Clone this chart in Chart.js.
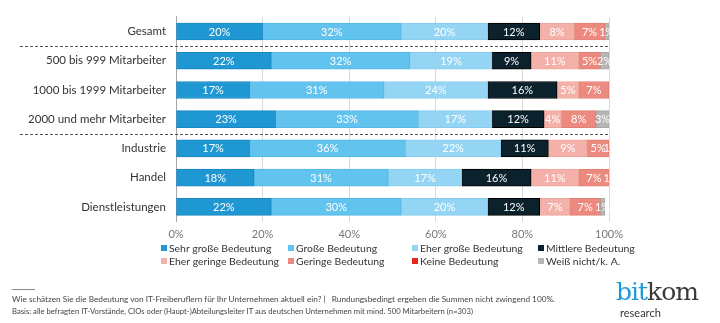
<!DOCTYPE html>
<html lang="de">
<head>
<meta charset="utf-8">
<title>Bedeutung von IT-Freiberuflern</title>
<script src="https://cdn.jsdelivr.net/npm/chart.js@4.4.1/dist/chart.umd.min.js"></script>
<style>
  html, body { margin: 0; padding: 0; background: #fff; }
  #wrap { position: relative; width: 720px; height: 323px; overflow: hidden; font-family: Lato, "Open Sans", sans-serif; }
  #chart { position: absolute; left: 0; top: 0; }
  .rule { position: absolute; left: 12px; top: 289px; width: 23px; height: 1px; background: #888; }
  .note { position: absolute; left: 12px; font-size: 8.2px; color: #444; white-space: nowrap; transform-origin: 0 0; }
  .logo { position: absolute; left: 616px; top: 279px; font-family: "DejaVu Serif", serif; font-size: 25px; letter-spacing: -1px; line-height: 1; }
  .logo .bit { color: #1b9ad7; }
  .logo .kom { color: #3a3a3a; }
  .research { position: absolute; left: 620px; top: 306px; font-size: 11px; color: #333; }
</style>
</head>
<body>
<div id="wrap">
  <canvas id="chart" width="720" height="323"></canvas>
  <div class="rule"></div>
  <div class="note" id="note1" data-w="543" style="top:294px">Wie schätzen Sie die Bedeutung von IT-Freiberuflern für Ihr Unternehmen aktuell ein? |&nbsp;&nbsp; Rundungsbedingt ergeben die Summen nicht zwingend 100%.</div>
  <div class="note" id="note2" data-w="461" style="top:306px">Basis: alle befragten IT-Vorstände, CIOs oder (Haupt-)Abteilungsleiter IT aus deutschen Unternehmen mit mind. 500 Mitarbeitern (n=303)</div>
  <div class="logo"><span class="bit">bit</span><span class="kom">kom</span></div>
  <div class="research">research</div>
</div>
<script>
const groups = ["Gesamt", "500 bis 999 Mitarbeiter", "1000 bis 1999 Mitarbeiter", "2000 und mehr Mitarbeiter", "Industrie", "Handel", "Dienstleistungen"];
const answers = ["Sehr große Bedeutung", "Große Bedeutung", "Eher große Bedeutung", "Mittlere Bedeutung", "Eher geringe Bedeutung", "Geringe Bedeutung", "Keine Bedeutung", "Weiß nicht/k. A."];

const sehrGross   = [20, 22, 17, 23, 17, 18, 22];
const gross       = [32, 32, 31, 33, 36, 31, 30];
const eherGross   = [20, 19, 24, 17, 22, 17, 20];
const mittlere    = [12, 9, 16, 12, 11, 16, 12];
const eherGering  = [8, 11, 5, 4, 9, 11, 7];
const gering      = [7, 5, 7, 8, 5, 7, 7];
const keine       = [0, 0, 0, 0, 0, 0, 0];
const weissNicht  = [1, 2, 0, 3, 1, 1, 1];

const xTicks = [0, 20, 40, 60, 80, 100];

const colors  = ["#1f97d3", "#62c3ee", "#95d5f4", "#0b222c", "#f4b1a9", "#ec8a7f", "#e8261c", "#b5b5b5"];
const borders = ["#1a87c0", "#55b8e6", "#86cbef", "#000000", "#eca69d", "#e07f73", "#d02018", "#a8a8a8"];
const series = [sehrGross, gross, eherGross, mittlere, eherGering, gering, keine, weissNicht];

// groups separated by dashed lines: after "Gesamt" and after the size bands
const separators = [0, 3];

// squeeze the footnote lines to their set width
document.querySelectorAll(".note").forEach(el => {
  const w = el.getBoundingClientRect().width;
  el.style.transform = "scaleX(" + (+el.dataset.w / w) + ")";
});

const valueLabels = {
  id: "valueLabels",
  afterDatasetsDraw(chart) {
    const ctx = chart.ctx;
    const area = chart.chartArea;
    ctx.save();
    ctx.beginPath();
    ctx.rect(area.left, area.top, area.right - area.left + 4, area.bottom - area.top);
    ctx.clip();
    ctx.font = "11px Lato";
    ctx.fillStyle = "#ffffff";
    ctx.textAlign = "center";
    ctx.textBaseline = "middle";
    chart.data.datasets.forEach((ds, i) => {
      chart.getDatasetMeta(i).data.forEach((bar, j) => {
        const v = ds.data[j];
        if (!v) return;
        const cx = (bar.x + bar.base) / 2;
        ctx.fillText(v + "%", cx, bar.y + 0.5);
      });
    });
    ctx.restore();
  }
};

const dashedRules = {
  id: "dashedRules",
  afterDraw(chart) {
    const y = chart.scales.y;
    const ctx = chart.ctx;
    ctx.save();
    ctx.strokeStyle = "#555";
    ctx.lineWidth = 1;
    ctx.setLineDash([3, 2]);
    separators.forEach(i => {
      const py = Math.round((y.getPixelForValue(i) + y.getPixelForValue(i + 1)) / 2) + 0.5;
      ctx.beginPath();
      ctx.moveTo(20, py);
      ctx.lineTo(chart.chartArea.right + 1, py);
      ctx.stroke();
    });
    ctx.restore();
  }
};

// legend in four columns, two rows
const gridLegend = {
  id: "gridLegend",
  afterDraw(chart) {
    const ctx = chart.ctx;
    const colX = [161, 288, 412, 538];
    const rowY = [248, 261];
    ctx.save();
    ctx.font = "10.4px Lato";
    ctx.textBaseline = "middle";
    ctx.textAlign = "left";
    chart.data.datasets.forEach((ds, i) => {
      const x = colX[i % 4];
      const y = rowY[Math.floor(i / 4)];
      ctx.fillStyle = ds.backgroundColor;
      ctx.fillRect(x, y - 3, 6, 6);
      ctx.fillStyle = "#333";
      ctx.fillText(ds.label, x + 8, y + 0.5);
    });
    ctx.restore();
  }
};

new Chart("chart", {
  type: "bar",
  data: {
    labels: groups,
    datasets: answers.map((name, i) => ({
      label: name,
      data: series[i],
      backgroundColor: colors[i],
      borderColor: borders[i],
      borderWidth: 1,
      borderSkipped: false,
      barThickness: 17
    }))
  },
  options: {
    indexAxis: "y",
    responsive: false,
    animation: false,
    layout: { padding: { left: 0, right: 111, top: 4.5, bottom: 81.5 } },
    plugins: {
      legend: { display: false },
      tooltip: { enabled: false }
    },
    scales: {
      x: {
        stacked: true,
        min: 0,
        max: 100,
        afterBuildTicks: s => { s.ticks = xTicks.map(v => ({ value: v })); },
        afterFit: s => { s.height = 20; },
        grid: { color: "#d9d9d9", drawTicks: false },
        border: { display: false },
        ticks: {
          padding: 6,
          color: "#777",
          font: { family: "Lato", size: 11 },
          callback: v => v + "%"
        }
      },
      y: {
        stacked: true,
        afterFit: s => { s.width = 176; },
        grid: { display: false, drawTicks: false },
        border: { display: true, color: "#a6a6a6", width: 1 },
        ticks: {
          padding: 10,
          color: "#333",
          font: { family: "Lato", size: 11.5 }
        }
      }
    }
  },
  plugins: [valueLabels, dashedRules, gridLegend]
});
</script>
</body>
</html>
